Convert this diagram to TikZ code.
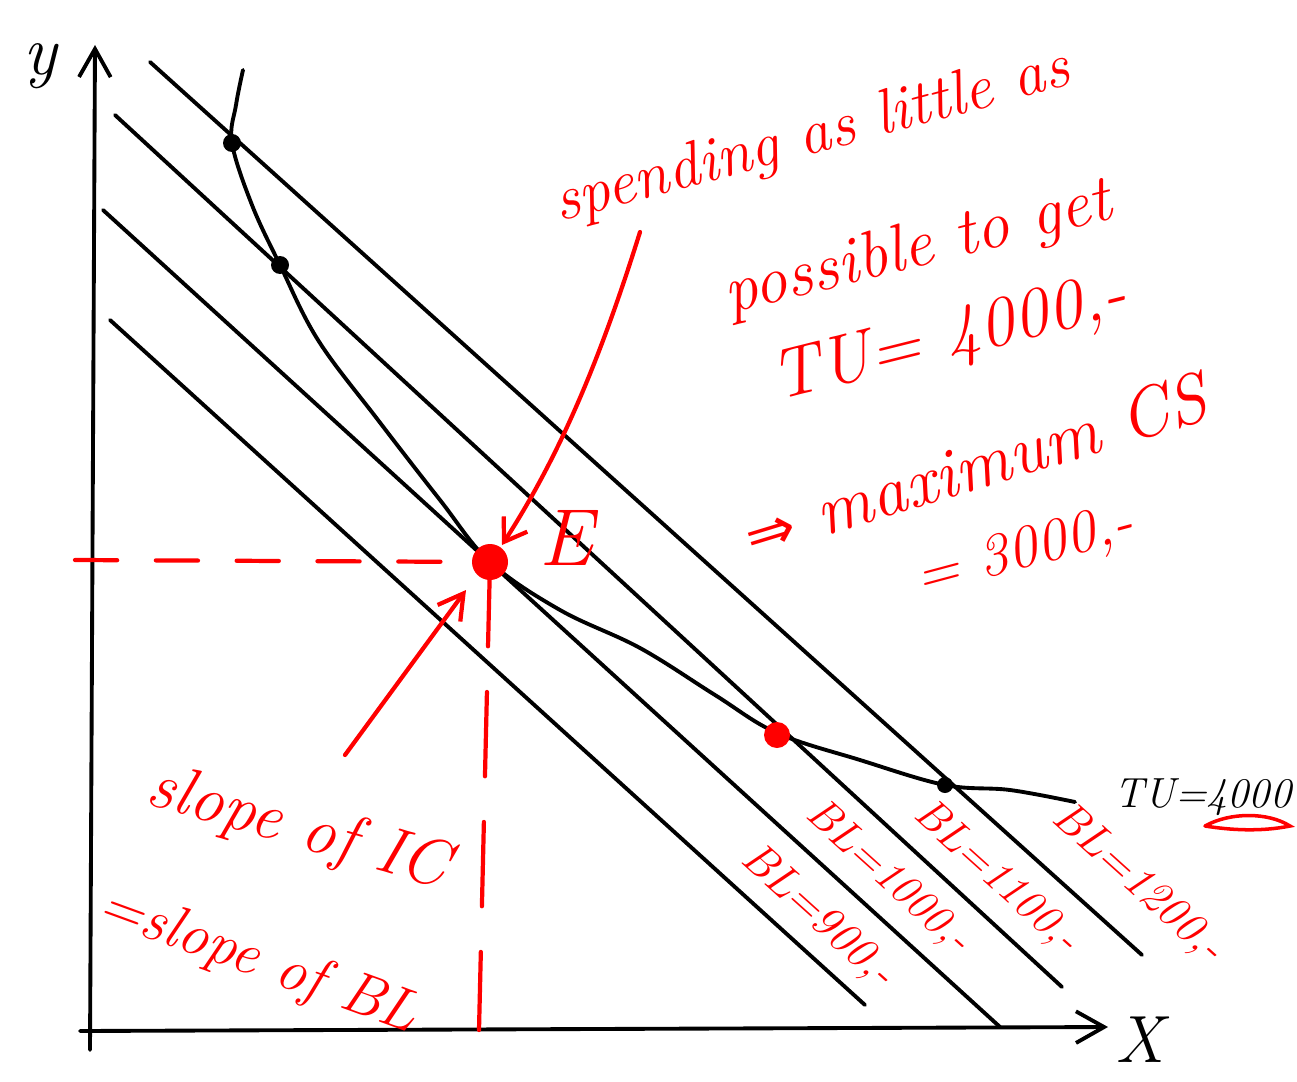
\documentclass[tikz,border=0pt]{standalone}
\usepackage{fontspec}
\newfontfamily\symf{DejaVu Sans}
\usetikzlibrary{arrows.meta}
\definecolor{ink}{RGB}{255,0,0}
\begin{document}
\begin{tikzpicture}[x=0.02cm,y=-0.02cm,
  blk/.style={line width=2.2pt,line cap=round,line join=round},
  rd/.style={draw=ink,line width=2.4pt,line cap=round},
  rtext/.style={text=ink,inner sep=0pt},
  fs/.style={font=\fontsize{#1}{#1}\selectfont\itshape}]
\useasboundingbox (0,0) rectangle (1297,1081);
% axes
\coordinate (ybot) at (90,1050);
\coordinate (ytop) at (95,45);
\coordinate (xbeg) at (80,1031);
\coordinate (xend) at (1108,1027);
\draw[blk,-{Straight Barb[length=16pt,width=18pt,line width=2.2pt]}] (ybot) -- (ytop);
\draw[blk,-{Straight Barb[length=16pt,width=18pt,line width=2.2pt]}] (xbeg) -- (xend);
\node[fs=40,inner sep=0pt] (ylab) at (40,66) {y};
\node[fs=38,inner sep=0pt] (xlab) at (1140,1040) {X};
% budget lines
\coordinate (a1) at (150,62);  \coordinate (a2) at (1142,955);
\coordinate (b1) at (115,115); \coordinate (b2) at (1062,987);
\coordinate (c1) at (103,210); \coordinate (c2) at (1000,1027);
\coordinate (d1) at (110,320); \coordinate (d2) at (865,1005);
\draw[blk] (a1) -- (a2);
\draw[blk] (b1) -- (b2);
\draw[blk] (c1) -- (c2);
\draw[blk] (d1) -- (d2);
% indifference curve
\draw[blk] plot[smooth,tension=0.6] coordinates {(243,70) (236,105) (232,143) (252,205) (280,265) (318,340) (378,420) (440,500) (490,562) (560,610) (640,648) (715,695) (777,733) (860,760) (945,785) (1010,790) (1075,802)};
\fill (232,143) circle (9);
\fill (280,265) circle (9);
\fill (945,785) circle (8);
% red dashed guides
\coordinate (E) at (490,562);
\coordinate (hl) at (75,560);
\coordinate (vb) at (479,1030);
\draw[rd,dash pattern=on 24pt off 22pt] (hl) -- (E);
\draw[rd,dash pattern=on 48pt off 26pt] (E) -- (vb);
\fill[ink] (E) circle (18);
\fill[ink] (777,735) circle (13);
\node[rtext,fs=46] (Elab) at (566,538) {E};
% arrows
\coordinate (ar1s) at (640,232);
\coordinate (ar1e) at (502,545);
\draw[rd,-{Straight Barb[length=12pt,width=16pt]}] (ar1s) .. controls (600,360) and (560,455) .. (ar1e);
\coordinate (ar2s) at (345,755);
\coordinate (ar2e) at (466,590);
\draw[rd,-{Straight Barb[length=14pt,width=16pt]}] (ar2s) -- (ar2e);
% red text block
\node[rtext,fs=36,rotate=15] (t1) at (812,138) {spending as little as};
\node[rtext,fs=38,rotate=14] (t2) at (918,250) {possible to get};
\node[rtext,fs=40,rotate=14] (t3) at (950,340) {TU= 4000,-};
\node[rtext,fs=40,rotate=17] (t4) at (975,465) {{\symf\fontsize{34}{34}\selectfont ⇒} maximum CS};
\node[rtext,fs=34,rotate=15] (t5) at (1025,553) {= 3000,-};
\node[rtext,fs=38,rotate=-16] (t6) at (298,830) {slope of IC};
\node[rtext,fs=34,rotate=-20] (t7) at (258,962) {=slope of BL};
% BL labels
\node[rtext,fs=26,rotate=-42] (l1200) at (1138,884) {BL=1200,-};
\node[rtext,fs=25,rotate=-42] (l1100) at (996,878) {BL=1100,-};
\node[rtext,fs=25,rotate=-42] (l1000) at (888,878) {BL=1000,-};
\node[rtext,fs=26,rotate=-42] (l900) at (818,917) {BL=900,-};
% TU label
\node[fs=24,inner sep=0pt] (tu) at (1203,797) {TU=4000};
\draw[rd,line width=2pt] (1205,826) .. controls (1230,812) and (1268,812) .. (1290,826) .. controls (1260,832) and (1230,830) .. (1205,826);
\end{tikzpicture}
\end{document}
